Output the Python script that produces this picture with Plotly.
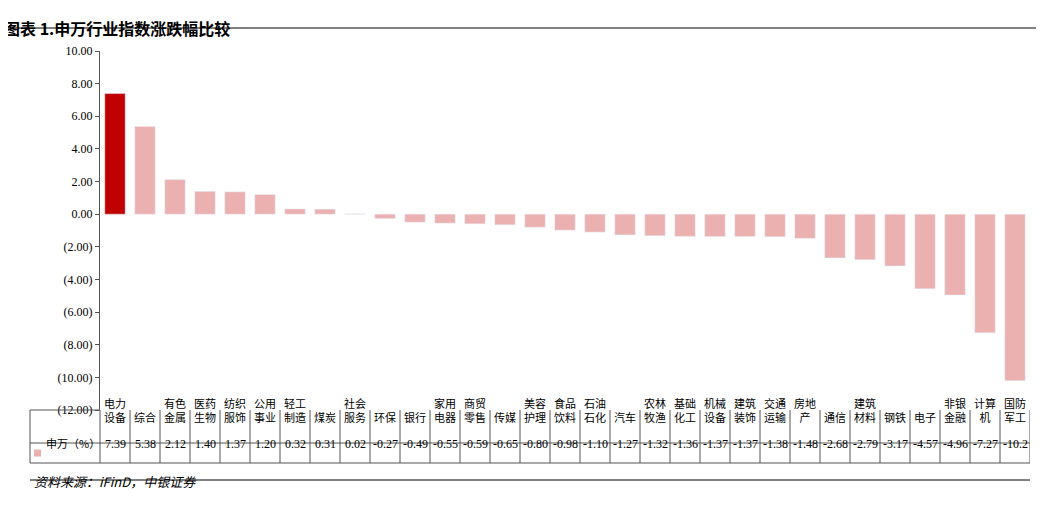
import plotly.graph_objects as go

categories = ["电力设备","综合","有色金属","医药生物","纺织服饰","公用事业","轻工制造","煤炭","社会服务","环保",
              "银行","家用电器","商贸零售","传媒","美容护理","食品饮料","石油石化","汽车","农林牧渔","基础化工",
              "机械设备","建筑装饰","交通运输","房地产","通信","建筑材料","钢铁","电子","非银金融","计算机","国防军工"]
values = [7.39,5.38,2.12,1.40,1.37,1.20,0.32,0.31,0.02,-0.27,-0.49,-0.55,-0.59,-0.65,-0.80,-0.98,-1.10,-1.27,
          -1.32,-1.36,-1.37,-1.37,-1.38,-1.48,-2.68,-2.79,-3.17,-4.57,-4.96,-7.27,-10.2]
value_labels = ["7.39","5.38","2.12","1.40","1.37","1.20","0.32","0.31","0.02","-0.27","-0.49","-0.55","-0.59",
                "-0.65","-0.80","-0.98","-1.10","-1.27","-1.32","-1.36","-1.37","-1.37","-1.38","-1.48","-2.68",
                "-2.79","-3.17","-4.57","-4.96","-7.27","-10.2"]
ytick_vals = [10,8,6,4,2,0,-2,-4,-6,-8,-10,-12]
ytick_text = ["10.00","8.00","6.00","4.00","2.00","0.00","(2.00)","(4.00)","(6.00)","(8.00)","(10.00)","(12.00)"]
series_name = "申万（%）"

OFF = 8  # page body margin
W, H = 1044 - OFF, 506 - OFF
L, R, T, B = 100 - OFF, 14, 51 - OFF, 96
pw, ph = W - L - R, H - T - B

def py(pix):  # screen pixel y -> paper y
    return 1 - (pix - OFF - T) / ph
def px(pix):
    return (pix - OFF - L) / pw

colors = ["#C00000"] + ["#EBB0B0"] * (len(values) - 1)
n = len(categories)
fig = go.Figure(go.Bar(x=list(range(n)), y=values, marker_color=colors, width=0.68, name=series_name))

font = dict(family="Noto Sans CJK SC", size=11, color="#000")
numfont = dict(family="Liberation Serif", size=12, color="#000")
shapes, ann = [], []
line = dict(color="#555", width=1)
tx0 = px(30)
for yy in [443, 463]:
    shapes.append(dict(type="line", xref="paper", yref="paper", x0=tx0, x1=1, y0=py(yy), y1=py(yy), line=line))
shapes.append(dict(type="line", xref="paper", yref="paper", x0=tx0, x1=0, y0=py(410), y1=py(410), line=line))
shapes.append(dict(type="line", xref="paper", yref="paper", x0=tx0, x1=tx0, y0=py(410), y1=py(463), line=line))
shapes.append(dict(type="line", xref="paper", yref="paper", x0=0, x1=0, y0=py(410), y1=py(463), line=line))
for i in range(n):
    shapes.append(dict(type="line", xref="x", yref="paper", x0=i + 0.5, x1=i + 0.5, y0=py(410), y1=py(463), line=line))
    c = categories[i]
    lab = c if len(c) <= 2 else c[:2] + "<br>" + c[2:]
    ann.append(dict(x=i, y=py(426.5), xref="x", yref="paper", text=lab, showarrow=False, font=font))
    ann.append(dict(x=i, y=py(453), xref="x", yref="paper", text=value_labels[i], showarrow=False, font=numfont))
# legend cell
shapes.append(dict(type="rect", xref="paper", yref="paper", x0=px(34), x1=px(41), y0=py(456.5), y1=py(449.5),
                   fillcolor="#EBB0B0", line=dict(width=0)))
ann.append(dict(x=px(44), y=py(453), xref="paper", yref="paper", xanchor="left", text=series_name,
                showarrow=False, font=font))
# title & source
shapes.append(dict(type="line", xref="paper", yref="paper", x0=px(0), x1=px(1040), y0=py(28), y1=py(28),
                   line=dict(color="#000", width=1)))
shapes.append(dict(type="line", xref="paper", yref="paper", x0=px(30), x1=px(1030), y0=py(480), y1=py(480),
                   line=dict(color="#000", width=1)))
ann.append(dict(x=px(2), y=py(14), xref="paper", yref="paper", xanchor="left", text="<b>图表 1.申万行业指数涨跌幅比较</b>",
                showarrow=False, font=dict(family="Noto Sans CJK SC", size=16, color="#000")))
ann.append(dict(x=px(32), y=py(493), xref="paper", yref="paper", xanchor="left", text="<i>资料来源：iFinD，中银证券</i>",
                showarrow=False, font=dict(family="Noto Sans CJK SC", size=13, color="#000")))

fig.update_layout(
    width=W, height=H, margin=dict(l=L, r=R, t=T, b=B), plot_bgcolor="white", paper_bgcolor="white",
    showlegend=False, shapes=shapes, annotations=ann,
    xaxis=dict(range=[-0.5, n - 0.5], showticklabels=False, showgrid=False, zeroline=False),
    yaxis=dict(range=[-12, 10], tickvals=ytick_vals, ticktext=ytick_text, showgrid=False, zeroline=False,
               showline=True, linecolor="#555", ticks="outside", ticklen=4, tickcolor="#555",
               tickfont=dict(family="Liberation Serif", size=12, color="#000")),
)
fig.write_html("out.html")
